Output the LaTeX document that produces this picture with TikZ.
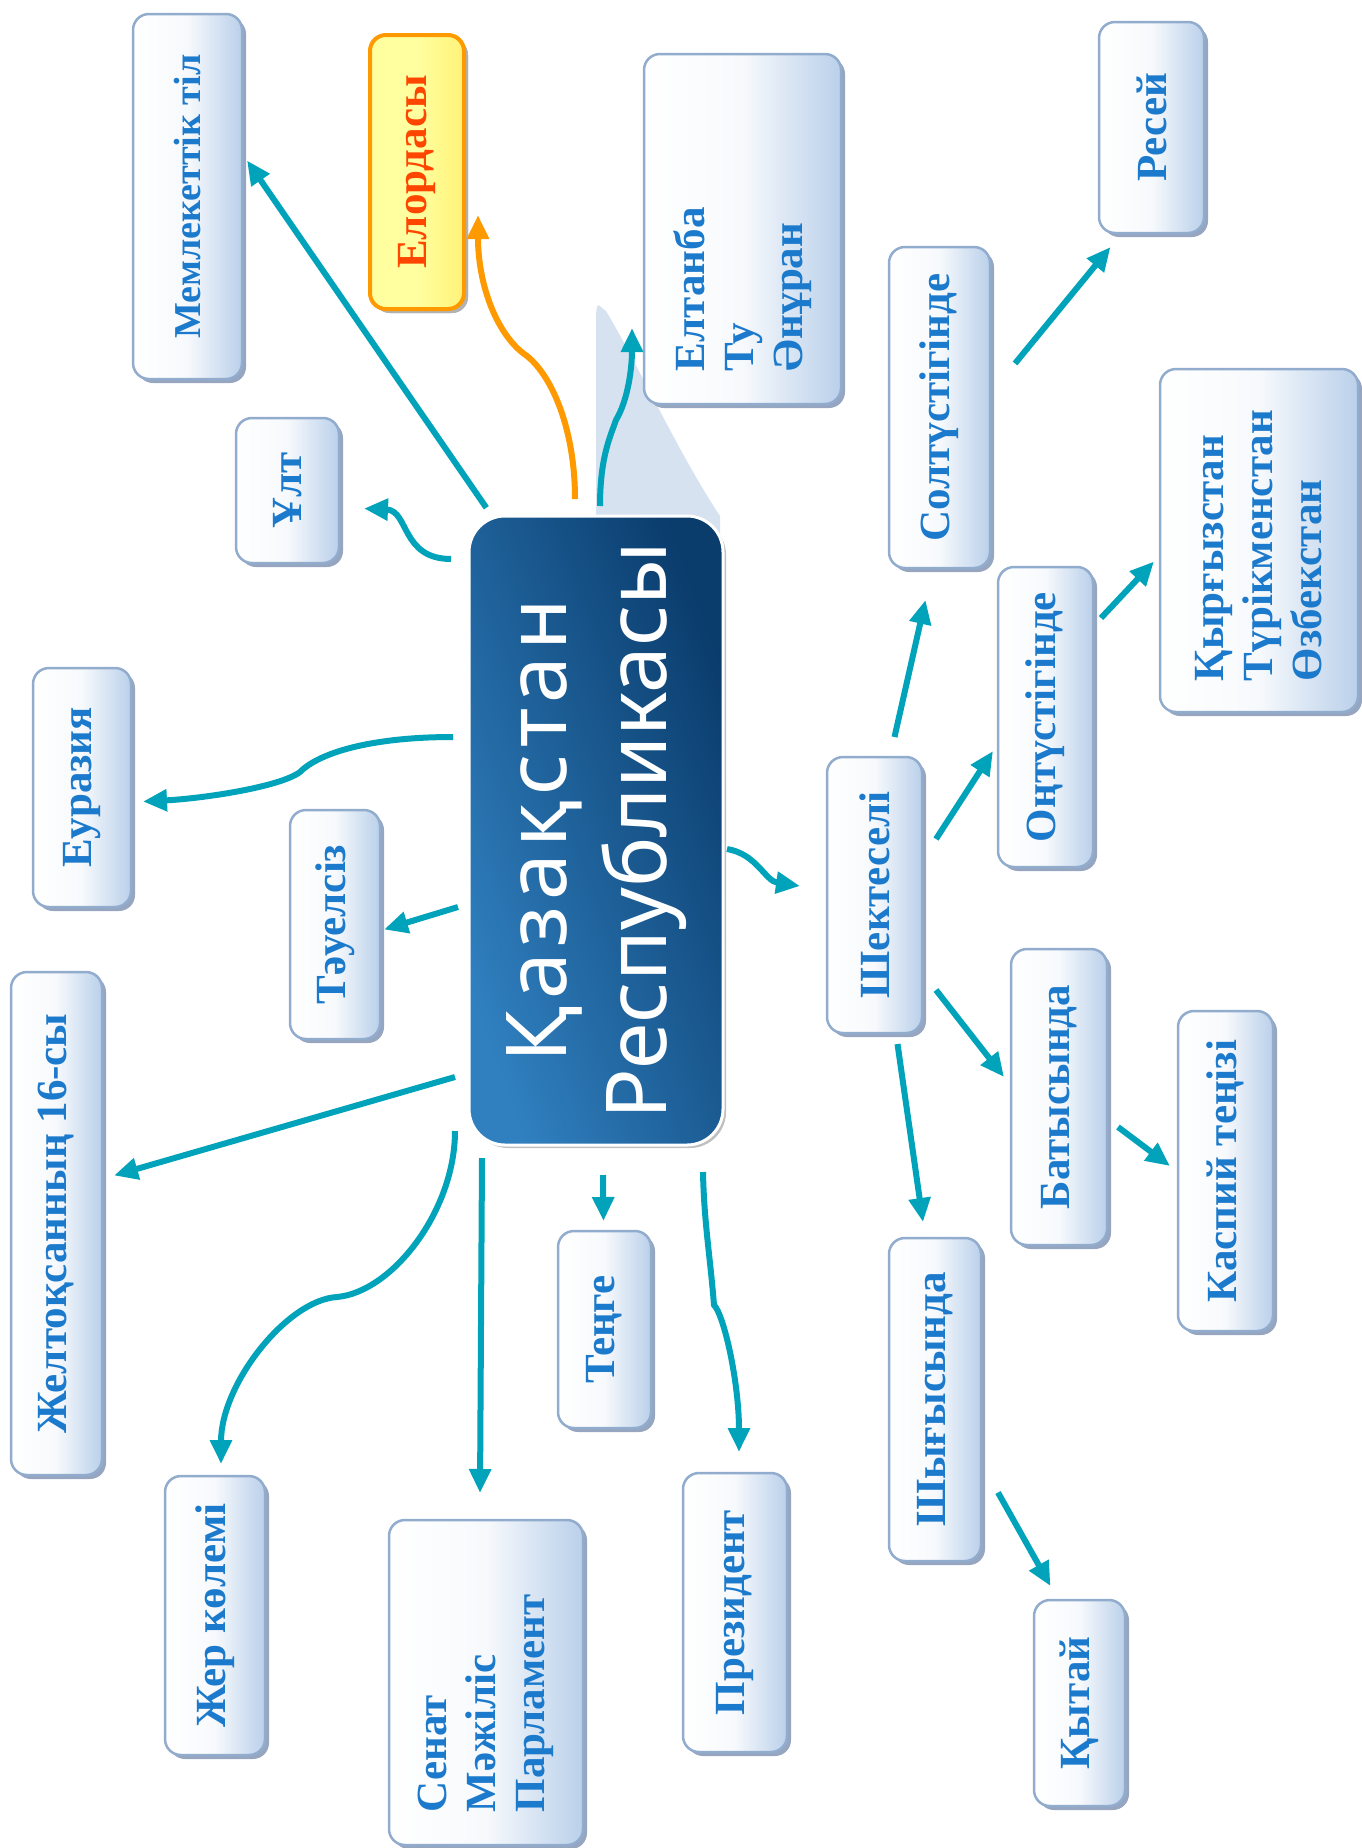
\documentclass[tikz,border=0pt]{standalone}
\usepackage{graphicx}
\usepackage{fontspec}
\setmainfont{Liberation Serif}
\newfontfamily\hubfont{Noto Sans}
\usetikzlibrary{arrows.meta,shadows,backgrounds}
\definecolor{linkteal}{RGB}{0,163,186}
\definecolor{linkorange}{RGB}{255,153,0}
\definecolor{bxline}{RGB}{146,172,206}
\definecolor{bxblue}{RGB}{186,208,234}
\definecolor{bxshade}{RGB}{150,166,192}
\definecolor{bxtext}{RGB}{28,122,204}
\definecolor{elfill}{RGB}{255,255,160}
\definecolor{elfilldark}{RGB}{255,242,120}
\definecolor{eltext}{RGB}{255,70,0}
\definecolor{hublight}{RGB}{48,128,192}
\definecolor{hubdark}{RGB}{10,60,108}
\definecolor{tailblue}{RGB}{214,226,240}
\tikzset{%
  sz/.style 2 args = {minimum width=#1, minimum height=#2},%
  box/.style       = {shape=rectangle, rounded corners=16pt, draw=bxline,%
                      line width=2.5pt, left color=white, right color=bxblue,%
                      middle color=white!88!bxblue, text=bxtext,%
                      font=\bfseries\fontsize{43}{49}\selectfont,%
                      drop shadow={shadow xshift=4pt, shadow yshift=-4pt,%
                                   fill=bxshade, opacity=1}},%
  elbox/.style     = {box, draw=linkorange, line width=4pt, left color=elfill,%
                      right color=elfilldark, middle color=elfill, text=eltext,%
                      drop shadow={shadow xshift=4pt, shadow yshift=-4pt,%
                                   fill=black!30, opacity=1}},%
  hub/.style       = {shape=rectangle, rounded corners=36pt, draw=white,%
                      line width=3pt, left color=hublight, right color=hubdark,%
                      shading angle=110, text=white,%
                      font=\hubfont\fontsize{84}{100}\selectfont,%
                      drop shadow={shadow xshift=3pt, shadow yshift=-3pt,%
                                   fill=black!25, opacity=1}},%
  link/.style      = {draw=linkteal, line width=6pt,%
                      -{Triangle[length=24pt,width=21pt]}},%
  elink/.style     = {link, draw=linkorange}%
}
\newcommand{\vtxt}[1]{\rotatebox{90}{#1}}
\newcommand{\vlist}[2]{\rotatebox{90}{\parbox{#1}{\raggedright #2}}}
\begin{document}
\begin{tikzpicture}[x=1pt,y=-1pt,
	every node/.style = {inner sep=0pt, outer sep=0pt}]
	\useasboundingbox (0,0) rectangle (1362,1848);
	% centre
	\node [hub, sz={254pt}{629pt}] (rk) at (596,830.5)
		{\vtxt{\begin{tabular}{@{}c@{}}{\addfontfeature{LetterSpace=7}Қазақстан}\\Республикасы\end{tabular}}};
	\begin{scope}[on background layer]
		\fill [tailblue] ([yshift=-40pt]rk.north) -- ([yshift=190pt]rk.north)
			.. controls +(0,-30) and +(-8,-5) .. ([xshift=10pt,yshift=205pt]rk.north)
			.. controls +(30,50) and +(-40,-60) .. ([xshift=-3pt]rk.north east)
			-- ([xshift=-3pt,yshift=-40pt]rk.north east) -- cycle;
	\end{scope}
	% left and top
	\node [box, sz={109pt}{365pt}, font=\bfseries\fontsize{38}{49}\selectfont] (ml) at (187.5,196.5) {\vtxt{Мемлекеттік тіл}};
	\node [elbox, sz={94pt}{274pt}] (el) at (417,172) {\vtxt{Елордасы}};
	\node [box, sz={197pt}{350pt}] (et) at (742.5,229) {\vlist{284pt}{Елтанба\\Ту\\Әнұран}};
	\node [box, sz={103pt}{145pt}] (ul) at (287.5,490.5) {\vtxt{Ұлт}};
	\node [box, sz={98pt}{239pt}] (eu) at (82,787.5) {\vtxt{Еуразия}};
	\node [box, sz={90pt}{229pt}] (tu) at (335,924.5) {\vtxt{Тәуелсіз}};
	\node [box, sz={91pt}{503pt}] (zh) at (56.5,1223.5) {\vtxt{Желтоқсанның 16-сы}};
	% bottom
	\node [box, sz={100pt}{279pt}] (zk) at (215,1615.5) {\vtxt{Жер көлемі}};
	\node [box, sz={194pt}{325pt}] (sn) at (486,1682.5) {\vlist{259pt}{Сенат\\Мәжіліс\\Парламент}};
	\node [box, sz={93pt}{197pt}] (te) at (604.5,1329.5) {\vtxt{Теңге}};
	\node [box, sz={104pt}{279pt}] (pr) at (735,1612.5) {\vtxt{Президент}};
	% borders
	\node [box, sz={95pt}{276pt}] (sh) at (874.5,895) {\vtxt{Шектеселі}};
	\node [box, sz={101pt}{321pt}] (so) at (939.5,407.5) {\vtxt{Солтүстігінде}};
	\node [box, sz={105pt}{211pt}] (re) at (1151.5,127.5) {\vtxt{Ресей}};
	\node [box, sz={95pt}{300pt}] (on) at (1045.5,717) {\vtxt{Оңтүстігінде}};
	\node [box, sz={198pt}{343pt}] (kt) at (1259,540.5) {\vlist{281pt}{Қырғызстан\\Түрікменстан\\Өзбекстан}};
	\node [box, sz={96pt}{296pt}] (ba) at (1059,1097) {\vtxt{Батысында}};
	\node [box, sz={95pt}{320pt}] (ka) at (1225.5,1171) {\vtxt{Каспий теңізі}};
	\node [box, sz={92pt}{323pt}] (shy) at (935,1399.5) {\vtxt{Шығысында}};
	\node [box, sz={91pt}{206pt}] (ky) at (1079.5,1703) {\vtxt{Қытай}};
	% connectors
	\draw [link, shorten <=10pt] ([xshift=23pt]rk.north west) -- ([xshift=5pt,yshift=36pt]ml.east);
	\draw [elink] ([xshift=-21pt,yshift=17pt]rk.north)
		.. controls +(0,-70) and +(25,20) .. ++(-48,-143)
		.. controls +(-30,-20) and +(0,70) .. ([xshift=14pt,yshift=-43pt]el.east);
	\draw [link] ([xshift=4pt,yshift=10pt]rk.north)
		.. controls +(0,-50) and +(-5,15) .. ++(16,-86)
		.. controls +(12,-20) and +(0,40) .. ([xshift=-12pt,yshift=-99pt]et.west);
	\draw [link] ([xshift=-18pt,yshift=-43pt]rk.north west)
		.. controls +(-50,0) and +(45,2) .. ([xshift=25pt,yshift=-18pt]ul.east);
	\draw [link] ([xshift=-16pt,yshift=-221pt]rk.north west)
		.. controls +(-80,0) and +(20,-20) .. ++(-153,35)
		.. controls +(-20,15) and +(60,-3) .. ([xshift=12pt,yshift=-14pt]eu.east);
	\draw [link] ([xshift=-11pt,yshift=-391pt]rk.north west) -- ([xshift=4pt,yshift=-5pt]tu.east);
	\draw [link] ([xshift=-14pt,yshift=-561pt]rk.north west) -- ([xshift=12pt,yshift=48pt]zh.east);
	\draw [link] ([xshift=-14pt,yshift=14pt]rk.south west)
		.. controls +(0,80) and +(55,-5) .. ++(-118,166)
		.. controls +(-50,3) and +(0,-80) .. ([xshift=6pt,yshift=12pt]zk.north);
	\draw [link] ([xshift=13pt,yshift=-13pt]rk.south west) -- ([xshift=-6pt,yshift=27pt]sn.north);
	\draw [link] ([xshift=7pt,yshift=-30pt]rk.south) -- ([xshift=-1pt,yshift=10pt]te.north);
	\draw [link] ([xshift=-20pt,yshift=-27pt]rk.south east)
		.. controls +(1,50) and +(-4,-50) .. ++(11,133)
		.. controls +(10,10) and +(0,-70) .. ([xshift=4pt,yshift=21pt]pr.north);
	\draw [link] ([xshift=4pt,yshift=-333pt]rk.north east)
		.. controls +(30,5) and +(-35,-5) .. ([xshift=-27pt,yshift=9pt]sh.west);
	\draw [link] ([xshift=20pt,yshift=20pt]sh.north) -- ([xshift=-14pt,yshift=-32pt]so.south);
	\draw [link] ([xshift=14pt,yshift=56pt]sh.east) -- ([xshift=-5pt,yshift=-34pt]on.west);
	\draw [link] ([xshift=14pt,yshift=-95pt]sh.east) -- ([xshift=-7pt,yshift=20pt]ba.west);
	\draw [link] ([xshift=23pt,yshift=-11pt]sh.south) -- ([xshift=-12pt,yshift=16pt]shy.north);
	\draw [link] ([xshift=11pt,yshift=-30pt]ba.east) -- ([xshift=-8pt,yshift=5pt]ka.west);
	\draw [link] ([xshift=8pt,yshift=99pt]on.east) -- ([xshift=-6pt,yshift=-21pt]kt.west);
	\draw [link] ([xshift=25pt,yshift=44pt]so.east) -- ([xshift=-41pt,yshift=-14pt]re.south);
	\draw [link] ([xshift=17pt,yshift=-93pt]shy.east) -- ([xshift=-29pt,yshift=14pt]ky.north);
\end{tikzpicture}
\end{document}
